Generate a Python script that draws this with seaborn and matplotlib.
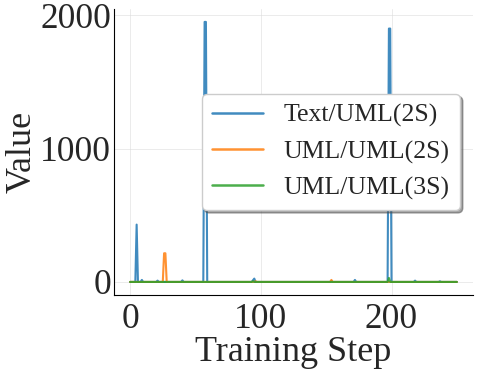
import numpy as np
import pandas as pd
import matplotlib
matplotlib.use("Agg")
import matplotlib.pyplot as plt
import seaborn as sns

# Training steps and spike values (baseline ~0)
n_steps = 251
text_2s_spikes = {5: 430, 9: 15, 21: 10, 40: 12, 57: 1950, 58: 1950, 94: 12, 95: 25,
                  154: 5, 172: 15, 198: 1900, 199: 1900, 218: 10, 237: 5}
uml_2s_spikes = {26: 215, 27: 215, 154: 15, 96: 5}
uml_3s_spikes = {198: 30, 94: 5}

series_names = ["Text/UML(2S)", "UML/UML(2S)", "UML/UML(3S)"]


def build(spikes):
    vals = np.zeros(n_steps)
    for k, v in spikes.items():
        vals[k] = v
    return vals


steps = np.arange(n_steps)
frames = []
for name, spikes in zip(series_names, [text_2s_spikes, uml_2s_spikes, uml_3s_spikes]):
    frames.append(pd.DataFrame({"step": steps, "value": build(spikes), "series": name}))
df = pd.concat(frames, ignore_index=True)

sns.set_style("white")
plt.rcParams["font.family"] = ["Liberation Serif", "DejaVu Serif"]

fig = plt.figure(figsize=(4.78, 3.71), dpi=100)
ax = fig.add_axes([0.238, 0.205, 0.752, 0.771])
sns.lineplot(data=df, x="step", y="value", hue="series", palette="tab10",
             linewidth=1.5, alpha=0.85, ax=ax)

ax.set_xlabel("Training Step", fontsize=26, labelpad=0)
ax.set_ylabel("Value", fontsize=26)
ax.yaxis.set_label_coords(-0.21, 0.5)
ax.set_xticks([0, 100, 200])
ax.set_yticks([0, 1000, 2000])
ax.tick_params(axis="both", labelsize=25.5, pad=1)
ax.tick_params(axis="x", length=4, color="#cccccc", pad=2)
ax.tick_params(axis="y", length=0, pad=2)
ax.grid(True, color="#dddddd", linewidth=0.6, alpha=0.7)
sns.despine(ax=ax)
for s in ["left", "bottom"]:
    ax.spines[s].set_color("black")

leg = ax.legend(title=None, fontsize=18.5, loc="center right", bbox_to_anchor=(0.999, 0.5),
                frameon=True, shadow=True, fancybox=True, handlelength=2.0,
                labelspacing=0.5)
for line in leg.get_lines():
    line.set_linewidth(1.8)

fig.savefig("out.png", dpi=100)
